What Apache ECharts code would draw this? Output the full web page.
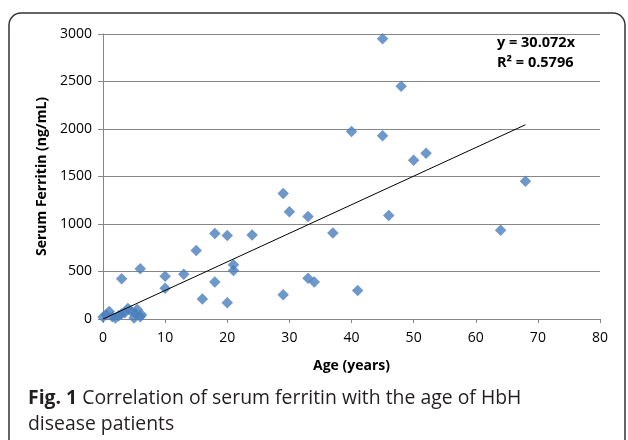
<!DOCTYPE html>
<html>
<head>
<meta charset="utf-8">
<script src="https://cdn.jsdelivr.net/npm/echarts@6/dist/echarts.min.js"></script>
<style>html,body{margin:0;padding:0;background:#fff;}#c{width:628px;height:440px;}</style>
</head>
<body>
<div id="c"></div>
<script>
// Data
const ages = [0, 0.5, 1, 1.5, 2, 2.5, 3, 3.5, 4, 4.5, 5, 5.2, 5.5, 6, 6.2,
  3, 6, 10, 10, 13, 15, 16, 18, 18, 20, 20, 21, 21, 24, 29, 29, 30, 33, 33, 34, 37, 40, 41, 45, 45, 46, 48, 50, 52, 64, 68];
const ferritin = [20, 45, 80, 25, 10, 35, 55, 65, 110, 85, 10, 60, 100, 25, 45,
  425, 530, 450, 325, 470, 720, 210, 900, 390, 880, 170, 570, 510, 885, 1320, 255, 1130, 1080, 430, 390, 905, 1975, 300, 2950, 1930, 1090, 2450, 1670, 1745, 935, 1450];
const slope = 30.072;
const rSquared = 0.5796;
const trendRange = [0, 68];
const xTicks = [0, 10, 20, 30, 40, 50, 60, 70, 80];
const yTicks = [0, 500, 1000, 1500, 2000, 2500, 3000];

const points = ages.map((a, i) => [a, ferritin[i]]);
const trend = trendRange.map(x => [x, slope * x]);

const chart = echarts.init(document.getElementById('c'));
const font = '"Open Sans", "DejaVu Sans", sans-serif';
chart.setOption({
  animation: false,
  grid: { left: 103, right: 28, top: 34, bottom: 121 },
  xAxis: {
    type: 'value', min: xTicks[0], max: xTicks[xTicks.length - 1], interval: 10,
    name: 'Age (years)', nameLocation: 'middle', nameGap: 40,
    nameTextStyle: { fontFamily: font, fontWeight: 'bold', fontSize: 14, color: '#000' },
    axisLine: { show: true, lineStyle: { color: '#868686', width: 1 } },
    axisTick: { show: true, length: 4, lineStyle: { color: '#868686' } },
    axisLabel: { fontFamily: font, fontSize: 14, color: '#000', margin: 12, formatter: v => String(v) },
    splitLine: { show: false }
  },
  yAxis: {
    type: 'value', min: yTicks[0], max: yTicks[yTicks.length - 1], interval: 500,
    name: 'Serum Ferritin (ng/mL)', nameLocation: 'middle', nameGap: 48,
    nameTextStyle: { fontFamily: font, fontWeight: 'bold', fontSize: 14, color: '#000' },
    axisLine: { show: true, lineStyle: { color: '#868686', width: 1 } },
    axisTick: { show: true, length: 5, lineStyle: { color: '#868686' } },
    axisLabel: { fontFamily: font, fontSize: 14, color: '#000', margin: 11, formatter: v => String(v) },
    splitLine: { show: true, lineStyle: { color: '#868686', width: 1 } }
  },
  series: [
    {
      type: 'scatter', data: points, symbol: 'diamond', symbolSize: 11.5,
      itemStyle: { color: '#4A7EBB' }, z: 3
    },
    {
      type: 'line', data: trend, symbol: 'none', silent: true,
      lineStyle: { color: '#000', width: 1 }, z: 4
    }
  ],
  graphic: [
    {
      type: 'rect', shape: { x: 9, y: 13, width: 616, height: 470, r: 12 },
      style: { fill: 'none', stroke: '#333', lineWidth: 1.5 }, silent: true, z: -1
    },
    {
      type: 'text', left: 497, top: 35,
      style: { text: 'y = ' + slope + 'x', fontFamily: font, fontWeight: 'bold', fontSize: 14.5, fill: '#000' }
    },
    {
      type: 'text', left: 497, top: 55,
      style: { text: 'R² = ' + rSquared, fontFamily: font, fontWeight: 'bold', fontSize: 14.5, fill: '#000' }
    },
    {
      type: 'text', left: 28, top: 385,
      style: {
        text: '{b|Fig. 1} Correlation of serum ferritin with the age of HbH\ndisease patients',
        fontFamily: font, fontSize: 19.4, fill: '#231f20', lineHeight: 26,
        rich: { b: { fontFamily: font, fontWeight: 'bold', fontSize: 19.4, fill: '#231f20', lineHeight: 26 } }
      }
    }
  ]
});
</script>
</body>
</html>
